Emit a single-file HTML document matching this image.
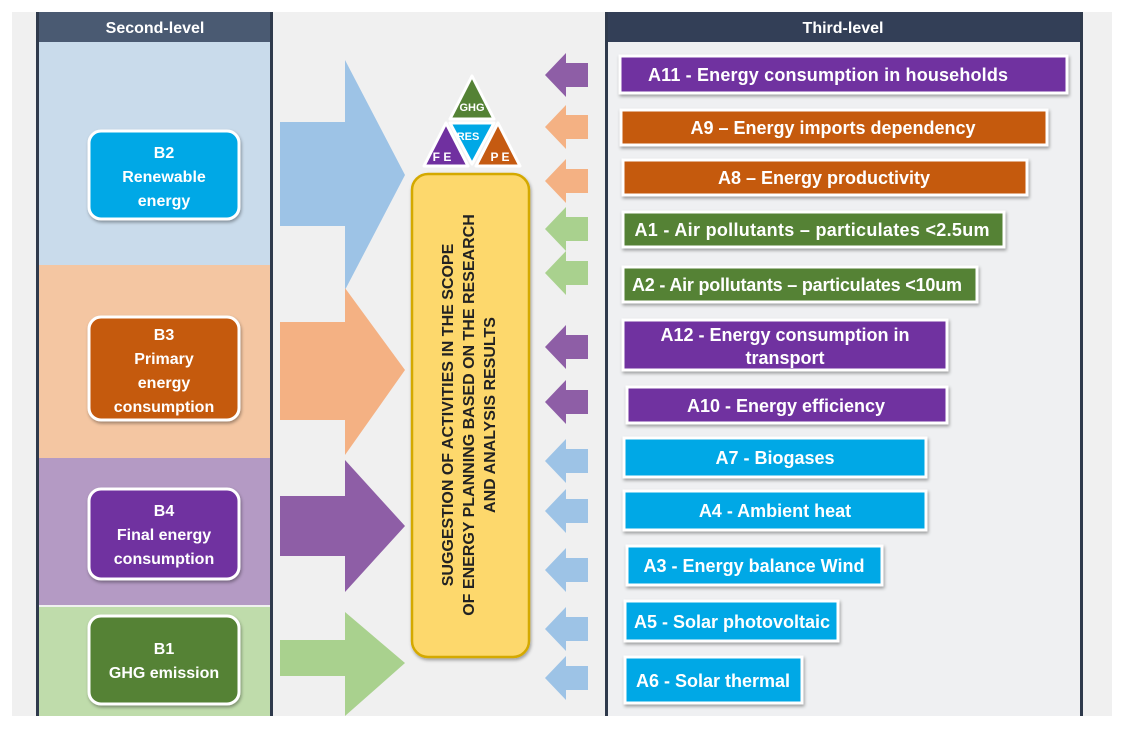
<!DOCTYPE html>
<html><head><meta charset="utf-8"><style>
body{margin:0;background:#fff;width:1125px;height:734px;overflow:hidden;font-family:"Liberation Sans",sans-serif}
svg text{font-family:"Liberation Sans",sans-serif;font-weight:bold}
</style></head><body>
<svg width="1125" height="734" xmlns="http://www.w3.org/2000/svg">
<defs>
<filter id="sh" x="-10%" y="-20%" width="120%" height="150%"><feDropShadow dx="1" dy="2" stdDeviation="1.5" flood-opacity="0.35"/></filter>
</defs>
<rect x="12" y="12" width="1100" height="704" fill="#f0f0f0"/>
<rect x="38" y="42" width="233" height="223" fill="#c9dbeb"/>
<rect x="38" y="265" width="233" height="193" fill="#f4c6a2"/>
<rect x="38" y="458" width="233" height="147" fill="#b49ac4"/>
<rect x="38" y="607" width="233" height="109" fill="#bfdcab"/>
<rect x="36" y="12" width="237" height="30" fill="#4a5a72"/>
<rect x="36" y="12" width="3" height="704" fill="#2f3a4c"/>
<rect x="270" y="12" width="3" height="704" fill="#2f3a4c"/>
<text x="155" y="33" fill="#fff" font-size="16" text-anchor="middle">Second-level</text>
<rect x="605" y="12" width="478" height="30" fill="#333f57"/>
<rect x="608" y="42" width="472" height="674" fill="#eff0f2"/>
<rect x="605" y="12" width="3" height="704" fill="#2f3a4c"/>
<rect x="1080" y="12" width="3" height="704" fill="#2f3a4c"/>
<text x="843" y="33" fill="#fff" font-size="16" text-anchor="middle">Third-level</text>
<polygon points="280,122 345,122 345,60 405,175 345,290 345,226 280,226" fill="#9dc3e6"/>
<polygon points="280,322 345,322 345,288 405,370 345,455 345,420 280,420" fill="#f4b183"/>
<polygon points="280,496 345,496 345,460 405,526 345,592 345,556 280,556" fill="#8e5ea6"/>
<polygon points="280,640 345,640 345,612 405,663 345,716 345,676 280,676" fill="#a9d18e"/>
<g filter="url(#sh)" stroke="#fff" stroke-width="3">
<rect x="89" y="131" width="150" height="88" rx="12" fill="#00a8e6"/>
<rect x="89" y="317" width="150" height="103" rx="12" fill="#c55a11"/>
<rect x="89" y="489" width="150" height="90" rx="12" fill="#7030a0"/>
<rect x="89" y="616" width="150" height="88" rx="12" fill="#548235"/>
</g>
<g fill="#fff" font-size="16" text-anchor="middle">
<text x="164" y="158">B2</text><text x="164" y="182">Renewable</text><text x="164" y="206">energy</text>
<text x="164" y="340">B3</text><text x="164" y="364">Primary</text><text x="164" y="388">energy</text><text x="164" y="412">consumption</text>
<text x="164" y="516">B4</text><text x="164" y="540">Final energy</text><text x="164" y="564">consumption</text>
<text x="164" y="654">B1</text><text x="164" y="678">GHG emission</text>
</g>
<g stroke="#fff" stroke-width="3" stroke-linejoin="round">
<polygon points="472,76 494,119 450,119" fill="#548235"/>
<polygon points="446,123 468,166 424,166" fill="#7030a0"/>
<polygon points="498,123 520,166 476,166" fill="#c55a11"/>
<polygon points="450,123 494,123 472,164" fill="#00a8e6"/>
</g>
<g fill="#fff" font-size="11" text-anchor="middle">
<text x="472" y="111">GHG</text>
<text x="442" y="161" font-size="12">F E</text>
<text x="500" y="161" font-size="12">P E</text>
<text x="468" y="140" font-weight="normal">RES</text>
</g>
<rect x="412" y="174" width="117" height="483" rx="16" fill="#fdd86c" stroke="#d4a900" stroke-width="2.5" filter="url(#sh)"/>
<g transform="translate(470,415) rotate(-90)" fill="#222" font-size="16" text-anchor="middle">
<text x="0" y="-17">SUGGESTION OF ACTIVITIES IN THE SCOPE</text>
<text x="0" y="4">OF ENERGY PLANNING BASED ON THE RESEARCH</text>
<text x="0" y="25">AND ANALYSIS RESULTS</text>
</g>
<g>
<polygon points="545,75 566,53 566,63 588,63 588,87 566,87 566,97" fill="#8e5ea6"/>
<polygon points="545,127 566,105 566,115 588,115 588,139 566,139 566,149" fill="#f4b183"/>
<polygon points="545,181 566,159 566,169 588,169 588,193 566,193 566,203" fill="#f4b183"/>
<polygon points="545,229 566,207 566,217 588,217 588,241 566,241 566,251" fill="#a9d18e"/>
<polygon points="545,273 566,251 566,261 588,261 588,285 566,285 566,295" fill="#a9d18e"/>
<polygon points="545,347 566,325 566,335 588,335 588,359 566,359 566,369" fill="#8e5ea6"/>
<polygon points="545,402 566,380 566,390 588,390 588,414 566,414 566,424" fill="#8e5ea6"/>
<polygon points="545,461 566,439 566,449 588,449 588,473 566,473 566,483" fill="#9dc3e6"/>
<polygon points="545,511 566,489 566,499 588,499 588,523 566,523 566,533" fill="#9dc3e6"/>
<polygon points="545,570 566,548 566,558 588,558 588,582 566,582 566,592" fill="#9dc3e6"/>
<polygon points="545,629 566,607 566,617 588,617 588,641 566,641 566,651" fill="#9dc3e6"/>
<polygon points="545,678 566,656 566,666 588,666 588,690 566,690 566,700" fill="#9dc3e6"/>
</g>
<g stroke="#fff" stroke-width="3" filter="url(#sh)">
<rect x="620" y="56" width="447" height="37" fill="#7030a0"/>
<rect x="621" y="110" width="426" height="35" fill="#c55a11"/>
<rect x="623" y="160" width="404" height="35" fill="#c55a11"/>
<rect x="623" y="212" width="381" height="35" fill="#548235"/>
<rect x="623" y="267" width="354" height="35" fill="#548235"/>
<rect x="623" y="320" width="324" height="50" fill="#7030a0"/>
<rect x="627" y="387" width="320" height="36" fill="#7030a0"/>
<rect x="624" y="438" width="302" height="39" fill="#00a8e6"/>
<rect x="624" y="491" width="302" height="39" fill="#00a8e6"/>
<rect x="627" y="546" width="255" height="39" fill="#00a8e6"/>
<rect x="625" y="601" width="213" height="40" fill="#00a8e6"/>
<rect x="625" y="657" width="177" height="46" fill="#00a8e6"/>
</g>
<g fill="#fff" font-size="18">
<text x="828" y="81" text-anchor="middle" textLength="360">A11 - Energy consumption in households</text>
<text x="833" y="134" text-anchor="middle">A9 – Energy imports dependency</text>
<text x="824" y="184" text-anchor="middle">A8 – Energy productivity</text>
<text x="812" y="236" text-anchor="middle" textLength="355">A1 - Air pollutants – particulates &lt;2.5um</text>
<text x="632" y="291" textLength="330">A2 - Air pollutants – particulates &lt;10um</text>
<text x="785" y="341" text-anchor="middle">A12 - Energy consumption in</text>
<text x="785" y="364" text-anchor="middle">transport</text>
<text x="786" y="412" text-anchor="middle">A10 - Energy efficiency</text>
<text x="775" y="464" text-anchor="middle">A7 - Biogases</text>
<text x="775" y="517" text-anchor="middle">A4 - Ambient heat</text>
<text x="754" y="572" text-anchor="middle">A3 - Energy balance Wind</text>
<text x="732" y="628" text-anchor="middle">A5 - Solar photovoltaic</text>
<text x="713" y="687" text-anchor="middle">A6 - Solar thermal</text>
</g>
</svg>
</body></html>
